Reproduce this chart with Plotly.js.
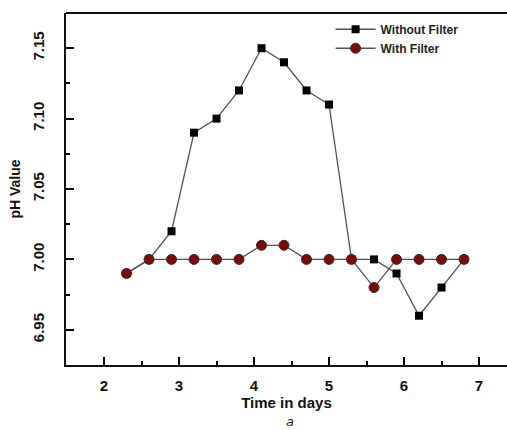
<!DOCTYPE html>
<html>
<head>
<meta charset="utf-8">
<script src="https://cdn.plot.ly/plotly-3.0.1.min.js"></script>
<style>html,body{margin:0;padding:0;background:#fff;}#chart{width:507px;height:430px;}</style>
</head>
<body>
<div id="chart"></div>
<script>
const days = [2.3, 2.6, 2.9, 3.2, 3.5, 3.8, 4.1, 4.4, 4.7, 5.0, 5.3, 5.6, 5.9, 6.2, 6.5, 6.8];
const withoutFilter = [6.99, 7.00, 7.02, 7.09, 7.10, 7.12, 7.15, 7.14, 7.12, 7.11, 7.00, 7.00, 6.99, 6.96, 6.98, 7.00];
const withFilter = [6.99, 7.00, 7.00, 7.00, 7.00, 7.00, 7.01, 7.01, 7.00, 7.00, 7.00, 6.98, 7.00, 7.00, 7.00, 7.00];
const seriesNames = ["<b>Without Filter</b>", "<b>With Filter</b>"];

const font = "Liberation Sans, Arial, sans-serif";

const traces = [
  {
    x: days, y: withoutFilter, name: seriesNames[0], type: "scatter", mode: "lines+markers",
    line: {color: "#505050", width: 1.3},
    marker: {symbol: "square", size: 8, color: "#000000", line: {width: 0}}
  },
  {
    x: days, y: withFilter, name: seriesNames[1], type: "scatter", mode: "lines+markers",
    line: {color: "#505050", width: 1.3},
    marker: {symbol: "circle", size: 10, color: "#7d0a0a", line: {color: "#3a2a2a", width: 1}}
  }
];

const layout = {
  width: 507, height: 430,
  margin: {l: 66, r: 0, t: 13, b: 65},
  paper_bgcolor: "#ffffff", plot_bgcolor: "#ffffff",
  showlegend: true,
  legend: {
    x: 0.6, y: 0.995, xanchor: "left", yanchor: "top",
    bgcolor: "rgba(0,0,0,0)", tracegroupgap: 0, itemwidth: 40,
    font: {family: font, size: 12, color: "#222"},
    traceorder: "normal"
  },
  xaxis: {
    range: [1.493, 7.373],
    tickmode: "linear", tick0: 2, dtick: 1,
    ticks: "inside", ticklen: 8, tickwidth: 2, tickcolor: "#000000",
    minor: {dtick: 0.5, ticks: "inside", ticklen: 4, tickwidth: 2, tickcolor: "#000000"},
    showline: true, linecolor: "#111", linewidth: 2,
    showgrid: false, zeroline: false,
    tickfont: {family: font, size: 15, color: "#111", weight: "bold"},
    ticklabelstandoff: 6,
    title: {text: "<b>Time in days</b>", font: {family: font, size: 15, color: "#111"}, standoff: 3}
  },
  yaxis: {
    range: [6.925, 7.175],
    tickmode: "linear", tick0: 6.95, dtick: 0.05,
    tickformat: ".2f",
    tickangle: -90,
    ticks: "inside", ticklen: 8, tickwidth: 2, tickcolor: "#000000",
    minor: {dtick: 0.025, ticks: "inside", ticklen: 4, tickwidth: 2, tickcolor: "#000000"},
    showline: true, linecolor: "#111", linewidth: 2,
    showgrid: false, zeroline: false,
    tickfont: {family: font, size: 15, color: "#111", weight: "bold"},
    ticklabelstandoff: 14,
    title: {text: "<b>pH Value</b>", font: {family: font, size: 14, color: "#111"}, standoff: 6}
  },
  shapes: [
    {type: "line", xref: "paper", yref: "paper", x0: 0, x1: 1, y0: 1, y1: 1, line: {color: "#111", width: 2}}
  ],
  annotations: [
    {text: "<i>a</i>", xref: "paper", yref: "paper", x: (290 - 66) / 441, y: -(412 - 365) / 352,
     xanchor: "center", yanchor: "top", showarrow: false,
     font: {family: "DejaVu Sans, sans-serif", size: 13, color: "#222"}}
  ]
};

Plotly.newPlot("chart", traces, layout, {displayModeBar: false, staticPlot: true});
</script>
</body>
</html>
